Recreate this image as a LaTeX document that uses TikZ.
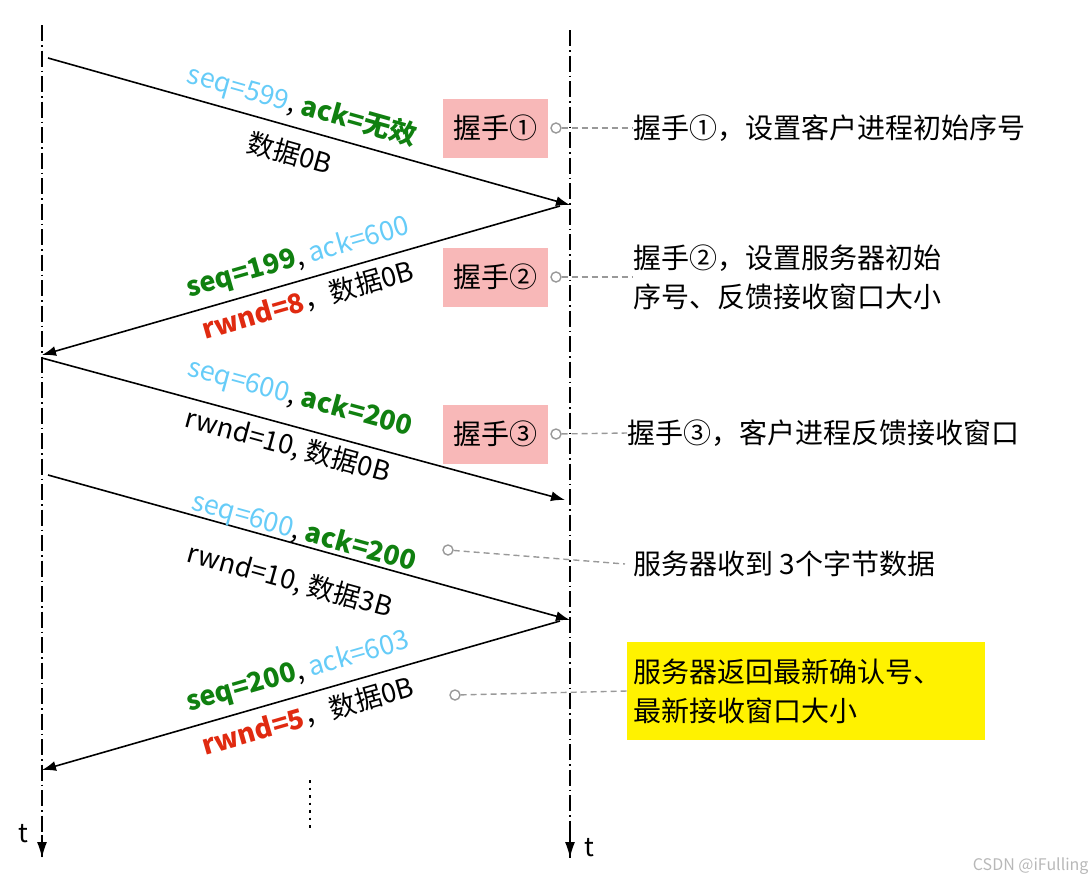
\documentclass[tikz,border=0pt]{standalone}
\usepackage{fontspec}
\setmainfont{Noto Sans CJK SC}
\usepackage{xcolor}
\usetikzlibrary{arrows.meta}
\definecolor{seqblue}{HTML}{66CCF8}
\definecolor{ackgreen}{HTML}{108010}
\definecolor{wndred}{HTML}{E02A10}
\definecolor{hspink}{HTML}{F8B8B8}
\definecolor{notegray}{HTML}{999999}
\tikzstyle{lifeline}=[draw=black, line width=1.5pt, dash pattern=on 16pt off 4pt on 1.5pt off 4pt]
\tikzstyle{msg}=[-{Latex[length=14pt,width=10pt]}, draw=black, line width=1.6pt]
\tikzstyle{lbl}=[font=\fontsize{27}{30}\selectfont, inner sep=0pt]
\tikzstyle{hsbox}=[fill=hspink, font=\fontsize{28}{32}\selectfont, minimum width=105pt, minimum height=59pt]
\tikzstyle{note}=[font=\fontsize{28}{39}\selectfont, anchor=west, align=left, inner sep=0pt]
\tikzstyle{pin}=[draw=notegray, line width=1.4pt, fill=white, circle, inner sep=0pt, minimum size=10pt]
\tikzstyle{pin edge}=[draw=notegray, line width=1.4pt, dash pattern=on 6pt off 4pt]
\newcommand{\sq}[1]{\textcolor{seqblue}{#1}}
\newcommand{\gk}[1]{\textcolor{ackgreen}{\bfseries #1}}
\newcommand{\rw}[1]{\textcolor{wndred}{\bfseries #1}}
\begin{document}
\begin{tikzpicture}[x=1pt, y=-1pt]
    \useasboundingbox (0,0) rectangle (1092,884);
    % time lines
    \coordinate (ltop) at (42,25);
    \coordinate (lbot) at (42,858);
    \coordinate (rtop) at (570,30);
    \coordinate (rbot) at (570,858);
    \draw [style=lifeline] (ltop) -- (lbot);
    \draw [style=lifeline] (rtop) -- (rbot);
    \draw [-{Latex[length=16pt,width=10pt]}, line width=1.5pt] (42,835) -- (lbot);
    \draw [-{Latex[length=16pt,width=10pt]}, line width=1.5pt] (570,835) -- (rbot);
    \node [font=\fontsize{26}{28}\selectfont] (tl) at (23,834) {t};
    \node [font=\fontsize{26}{28}\selectfont] (tr) at (589,848) {t};
    % messages
    \coordinate (a0) at (48,58);   \coordinate (a1) at (570,205);
    \coordinate (b0) at (560,206); \coordinate (b1) at (42,355);
    \coordinate (c0) at (42,358);  \coordinate (c1) at (565,500);
    \coordinate (d0) at (48,475);  \coordinate (d1) at (570,620);
    \coordinate (e0) at (560,621); \coordinate (e1) at (42,770);
    \draw [style=msg] (a0) -- (a1);
    \draw [style=msg] (b0) -- (b1);
    \draw [style=msg] (c0) -- (c1);
    \draw [style=msg] (d0) -- (d1);
    \draw [style=msg] (e0) -- (e1);
    \node [style=lbl, rotate=-15.7] (a-top) at (302,106) {\sq{seq=599}, \gk{ack=无效}};
    \node [style=lbl, rotate=-15.7] (a-bot) at (290,153) {数据0B};
    \node [style=lbl, rotate=16] (b-top) at (298,258) {\gk{seq=199}, \sq{ack=600}};
    \node [style=lbl, rotate=16] (b-bot) at (308,300) {\rw{rwnd=8}，数据0B};
    \node [style=lbl, rotate=-15.2] (c-top) at (300,398) {\sq{seq=600}, \gk{ack=200}};
    \node [style=lbl, rotate=-15.2] (c-bot) at (288,446) {rwnd=10, 数据0B};
    \node [style=lbl, rotate=-15.5] (d-top) at (304,533) {\sq{seq=600}, \gk{ack=200}};
    \node [style=lbl, rotate=-15.5] (d-bot) at (290,581) {rwnd=10, 数据3B};
    \node [style=lbl, rotate=16] (e-top) at (298,672) {\gk{seq=200}, \sq{ack=603}};
    \node [style=lbl, rotate=16] (e-bot) at (308,716) {\rw{rwnd=5}，数据0B};
    \draw [line width=2.5pt, dash pattern=on 2.5pt off 5pt] (310,780) -- (310,832);
    % handshakes
    \node [style=hsbox] (hs1) at (495,128) {握手①};
    \node [style=hsbox] (hs2) at (495,277) {握手②};
    \node [style=hsbox] (hs3) at (495,434) {握手③};
    \node [style=pin] (p1) at (556,128) {};
    \node [style=pin] (p2) at (556,277) {};
    \node [style=pin] (p3) at (556,434) {};
    \node [style=pin] (p4) at (448,550) {};
    \node [style=pin] (p5) at (455,695) {};
    % notes
    \node [style=note] (n1) at (633,128) {握手①，设置客户进程初始序号};
    \node [style=note] (n2) at (633,277) {握手②，设置服务器初始\\序号、反馈接收窗口大小};
    \node [style=note] (n3) at (627,433) {握手③，客户进程反馈接收窗口};
    \node [style=note] (n4) at (633,564) {服务器收到 3个字节数据};
    \node [fill=yellow, font=\fontsize{28}{39}\selectfont, align=left, anchor=west,
          minimum width=358pt, minimum height=98pt, text width=346pt, inner xsep=6pt] (n5) at (627,691)
          {服务器返回最新确认号、\\最新接收窗口大小};
    \draw [style=pin edge] (p1) -- (n1.west);
    \draw [style=pin edge] (p2) -- (n2.west);
    \draw [style=pin edge] (p3) -- (n3.west);
    \draw [style=pin edge] (p4) -- ([xshift=-8pt]n4.west);
    \draw [style=pin edge] (p5) -- (n5.west);
    \node [text=notegray!70, font=\fontsize{16}{18}\selectfont, anchor=east] (wm) at (1092,866) {CSDN @iFulling};
\end{tikzpicture}
\end{document}
